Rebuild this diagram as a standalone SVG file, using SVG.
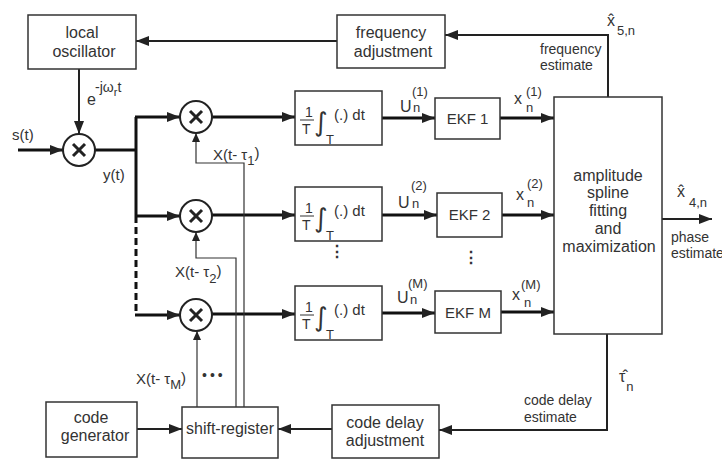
<svg xmlns="http://www.w3.org/2000/svg" width="722" height="460" viewBox="0 0 722 460">
<defs>
<marker id="ab" markerUnits="userSpaceOnUse" markerWidth="13" markerHeight="10" refX="13" refY="5" orient="auto"><path d="M0,0 L13,5 L0,10 z" fill="#222"/></marker>
<marker id="as" markerUnits="userSpaceOnUse" markerWidth="9" markerHeight="8" refX="9" refY="4" orient="auto"><path d="M0,0 L9,4 L0,8 z" fill="#222"/></marker>
<g id="integ">
<text x="305" y="117" class="t14">1</text>
<line x1="300" y1="120" x2="314" y2="120" stroke="#333" stroke-width="1"/>
<text x="302" y="134" class="t14">T</text>
<text x="314" y="131" class="int">∫</text>
<text x="326" y="144" class="t13">T</text>
<text x="334" y="120" class="t15">(.) dt</text>
</g>
</defs>
<style>
text{font-family:"Liberation Sans",Arial,sans-serif;fill:#333}
.b{fill:#fff;stroke:#333;stroke-width:1.5}
.l16{font-size:16px;text-anchor:middle}
.t13{font-size:13px}
.t14{font-size:14px}
.t15{font-size:15px}
.t16{font-size:16px}
.t11{font-size:11px}
.int{font-size:26px;font-family:"DejaVu Sans",sans-serif}
.thick{fill:none;stroke:#111;stroke-width:3}
.med{fill:none;stroke:#222;stroke-width:2}
.thin{fill:none;stroke:#333;stroke-width:1.2}
.mix circle{fill:#fff;stroke:#222;stroke-width:2}
.mix line{stroke:#222;stroke-width:3}
</style>

<g id="connectors">
<path class="med" d="M337,41 H136" marker-end="url(#ab)"/>
<path class="med" d="M608,97 V35 H445" marker-end="url(#ab)"/>
<path class="med" d="M79,69 V134" marker-end="url(#ab)"/>
<path class="thick" d="M18,150 H63" marker-end="url(#ab)"/>
<path class="thick" d="M95,150 H136"/>
<path class="thick" d="M136,117 V216"/>
<path class="thick" d="M136,216 V315" stroke-dasharray="7,4"/>
<path class="thick" d="M135,117 H180" marker-end="url(#ab)"/>
<path class="thick" d="M135,216 H180" marker-end="url(#ab)"/>
<path class="thick" d="M135,315 H180" marker-end="url(#ab)"/>
<path class="thick" d="M212,117 H295" marker-end="url(#ab)"/>
<path class="thick" d="M212,215 H295" marker-end="url(#ab)"/>
<path class="thick" d="M212,314 H295" marker-end="url(#ab)"/>
<path class="thick" d="M382,118 H435" marker-end="url(#ab)"/>
<path class="thick" d="M382,215 H437" marker-end="url(#ab)"/>
<path class="thick" d="M382,313 H435" marker-end="url(#ab)"/>
<path class="thick" d="M500,118 H554" marker-end="url(#ab)"/>
<path class="thick" d="M502,215 H554" marker-end="url(#ab)"/>
<path class="thick" d="M501,312 H554" marker-end="url(#ab)"/>
<path class="med" d="M662,219 H712" marker-end="url(#ab)"/>
<path class="med" d="M607,334 V430 H439" marker-end="url(#ab)"/>
<path class="med" d="M332,429 H278" marker-end="url(#ab)"/>
<path class="med" d="M137,429 H182" marker-end="url(#ab)"/>
<path class="thin" d="M197,407 V331" marker-end="url(#as)"/>
<path class="thin" d="M236,407 V258 H196 V232" marker-end="url(#as)"/>
<path class="thin" d="M244,407 V163 H196 V133" marker-end="url(#as)"/>
</g>

<g id="local-oscillator"><rect class="b" x="28" y="15" width="108" height="54"/><text class="l16" x="82" y="38">local</text><text class="l16" x="84" y="57">oscillator</text></g>
<g id="frequency-adjustment"><rect class="b" x="337" y="15" width="108" height="53"/><text class="l16" x="391" y="38">frequency</text><text class="l16" x="393" y="57">adjustment</text></g>
<g id="mixer0" class="mix"><circle cx="79" cy="150" r="16"/><line x1="73" y1="144" x2="85" y2="156"/><line x1="85" y1="144" x2="73" y2="156"/></g>
<g id="mixer1" class="mix"><circle cx="196" cy="117" r="16"/><line x1="190" y1="111" x2="202" y2="123"/><line x1="202" y1="111" x2="190" y2="123"/></g>
<g id="mixer2" class="mix"><circle cx="196" cy="216" r="16"/><line x1="190" y1="210" x2="202" y2="222"/><line x1="202" y1="210" x2="190" y2="222"/></g>
<g id="mixerM" class="mix"><circle cx="196" cy="315" r="16"/><line x1="190" y1="309" x2="202" y2="321"/><line x1="202" y1="309" x2="190" y2="321"/></g>

<g id="integrator1"><rect class="b" x="295" y="91" width="87" height="54"/><use href="#integ"/></g>
<g id="integrator2"><rect class="b" x="295" y="187" width="87" height="54"/><use href="#integ" transform="translate(0,96)"/></g>
<g id="integratorM"><rect class="b" x="295" y="286" width="87" height="54"/><use href="#integ" transform="translate(0,195)"/></g>

<g id="ekf1"><rect class="b" x="435" y="98" width="65" height="41"/><text class="t15" x="467.5" y="124" text-anchor="middle">EKF 1</text></g>
<g id="ekf2"><rect class="b" x="437" y="193" width="65" height="44"/><text class="t15" x="469.5" y="220" text-anchor="middle">EKF 2</text></g>
<g id="ekfM"><rect class="b" x="435" y="291" width="66" height="42"/><text class="t15" x="468" y="318" text-anchor="middle">EKF M</text></g>

<g id="amplitude"><rect class="b" x="554" y="97" width="108" height="237"/>
<text class="l16" x="608" y="181">amplitude</text><text class="l16" x="608" y="198">spline</text><text class="l16" x="608" y="216">fitting</text><text class="l16" x="608" y="234">and</text><text class="l16" x="609" y="252">maximization</text></g>

<g id="code-generator"><rect class="b" x="46" y="402" width="91" height="55"/><text class="l16" x="91" y="423">code</text><text class="l16" x="95" y="441">generator</text></g>
<g id="shift-register"><rect class="b" x="182" y="407" width="96" height="51"/><text class="l16" x="230" y="434">shift-register</text></g>
<g id="code-delay-adjustment"><rect class="b" x="332" y="405" width="107" height="53"/><text class="l16" x="385" y="428">code delay</text><text class="l16" x="385" y="446">adjustment</text></g>

<g id="labels">
<text class="t15" x="12" y="140">s(t)</text>
<text class="t15" x="103" y="180">y(t)</text>
<text class="t16" x="87" y="105">e</text>
<text class="t14" x="95" y="92">-jω<tspan class="t11" dy="4">r</tspan><tspan dy="-4">t</tspan></text>
<text class="t15" x="213" y="160">X(t- τ<tspan class="t13" dy="5">1</tspan><tspan dy="-7">)</tspan></text>
<text class="t15" x="175" y="277">X(t- τ<tspan class="t13" dy="6">2</tspan><tspan dy="-7">)</tspan></text>
<text class="t15" x="136" y="384">X(t- τ<tspan class="t13" dy="5">M</tspan><tspan dy="-6">)</tspan></text>
<text class="t14" x="202" y="380" letter-spacing="3">•••</text>
<text class="t16" x="400" y="112">U</text><text class="t13" x="413" y="112">n</text><text class="t13" x="412" y="96">(1)</text>
<text class="t16" x="398" y="208">U</text><text class="t13" x="412" y="208">n</text><text class="t13" x="411" y="190">(2)</text>
<text class="t16" x="397" y="303">U</text><text class="t13" x="410" y="304">n</text><text class="t13" x="408" y="288">(M)</text>
<text class="t16" x="514" y="104">x</text><text class="t13" x="526" y="112">n</text><text class="t13" x="526" y="96">(1)</text>
<text class="t16" x="516" y="200">x</text><text class="t13" x="527" y="207">n</text><text class="t13" x="527" y="188">(2)</text>
<text class="t16" x="512" y="300">x</text><text class="t13" x="524" y="307">n</text><text class="t13" x="521" y="289">(M)</text>
<text class="t14" x="540" y="54">frequency</text><text class="t14" x="540" y="70">estimate</text>
<text class="t16" x="607" y="26">x̂<tspan class="t13" dx="2" dy="9">5,n</tspan></text>
<text class="t16" x="677" y="197">x̂<tspan class="t13" dx="4" dy="10">4,n</tspan></text>
<text class="t14" x="671" y="242">phase</text><text class="t14" x="671" y="258">estimate</text>
<text class="t16" x="619" y="382">τ̂<tspan class="t13" dx="1" dy="9">n</tspan></text>
<text class="t14" x="524" y="405">code delay</text><text class="t14" x="524" y="422">estimate</text>
<text class="t16" x="329" y="257" font-weight="bold">⋮</text>
<text class="t16" x="463" y="263" font-weight="bold">⋮</text>
</g>
</svg>
